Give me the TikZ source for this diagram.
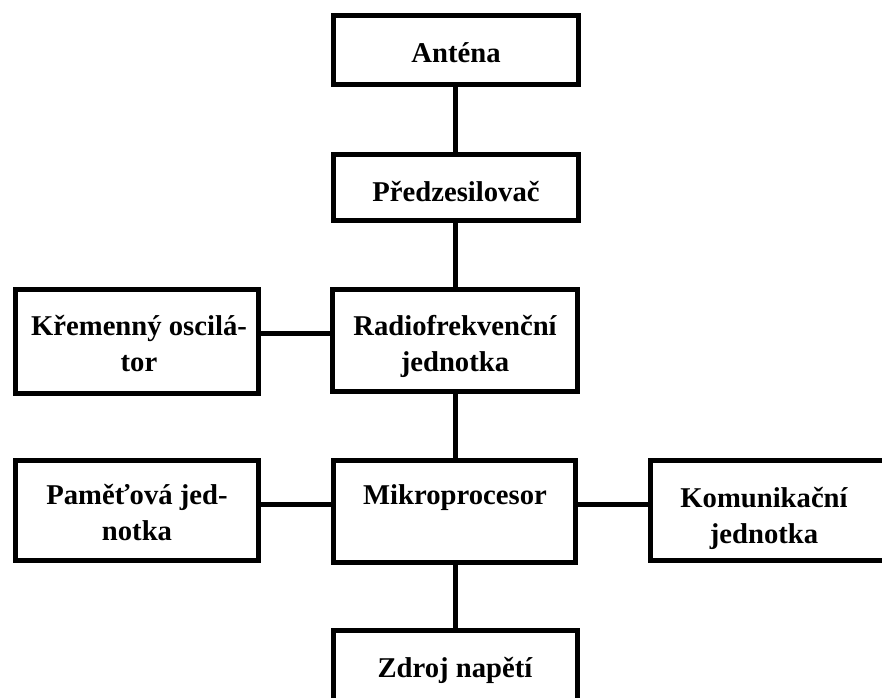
\documentclass[tikz,border=0pt]{standalone}
\usepackage{fontspec}
\setmainfont{Liberation Serif}
\begin{document}
\begin{tikzpicture}[x=0.75pt,y=-0.75pt,
  box/.style={draw=black,line width=3.75pt,rectangle,inner sep=0pt},
  txt/.style={font=\bfseries\fontsize{21.5}{27}\selectfont,align=center,inner sep=0pt,anchor=base},
  wire/.style={draw=black,line width=3.75pt}]
\useasboundingbox (0,0) rectangle (882,697);
\clip (0,0) rectangle (882,697);
\fill[white] (0,0) rectangle (882,697);
% boxes
\node[box,minimum width=183.75pt,minimum height=51.75pt] (ant) at (456,50) {};
\node[box,minimum width=183.75pt,minimum height=49.5pt] (pre) at (456,187.5) {};
\node[box,minimum width=183.75pt,minimum height=76.5pt] (rf) at (455,340.5) {};
\node[box,minimum width=182.25pt,minimum height=78pt] (osc) at (137,341.5) {};
\node[box,minimum width=182.25pt,minimum height=75pt] (mem) at (137,510.5) {};
\node[box,minimum width=181.5pt,minimum height=76.5pt] (mcu) at (454.5,511.5) {};
\node[box,minimum width=176.6pt,minimum height=75pt] (com) at (768.25,510.5) {};
\node[box,minimum width=183pt,minimum height=59.6pt] (zdr) at (455.5,670.25) {};
% texts
\node[txt] (tant) at (456,62) {Anténa};
\node[txt] (tpre) at (456,201) {Předzesilovač};
\node[txt] (trf) at (455,371) {Radiofrekvenční\\jednotka};
\node[txt] (tosc) at (139,371) {Křemenný oscilá-\\tor};
\node[txt] (tmem) at (137,540) {Paměťová jed-\\notka};
\node[txt] (tmcu) at (455,504) {Mikroprocesor};
\node[txt] (tcom) at (764,543) {Komunikační\\jednotka};
\node[txt] (tzdr) at (455,677) {Zdroj napětí};
% connectors
\coordinate (h1) at (0,333);
\coordinate (h2) at (0,504.5);
\coordinate (v) at (455.5,0);
\draw[wire] (ant.south -| v) -- (pre.north -| v);
\draw[wire] (pre.south -| v) -- (rf.north -| v);
\draw[wire] (osc.east |- h1) -- (rf.west |- h1);
\draw[wire] (rf.south -| v) -- (mcu.north -| v);
\draw[wire] (mem.east |- h2) -- (mcu.west |- h2);
\draw[wire] (mcu.east |- h2) -- (com.west |- h2);
\draw[wire] (mcu.south -| v) -- (zdr.north -| v);
\end{tikzpicture}
\end{document}
